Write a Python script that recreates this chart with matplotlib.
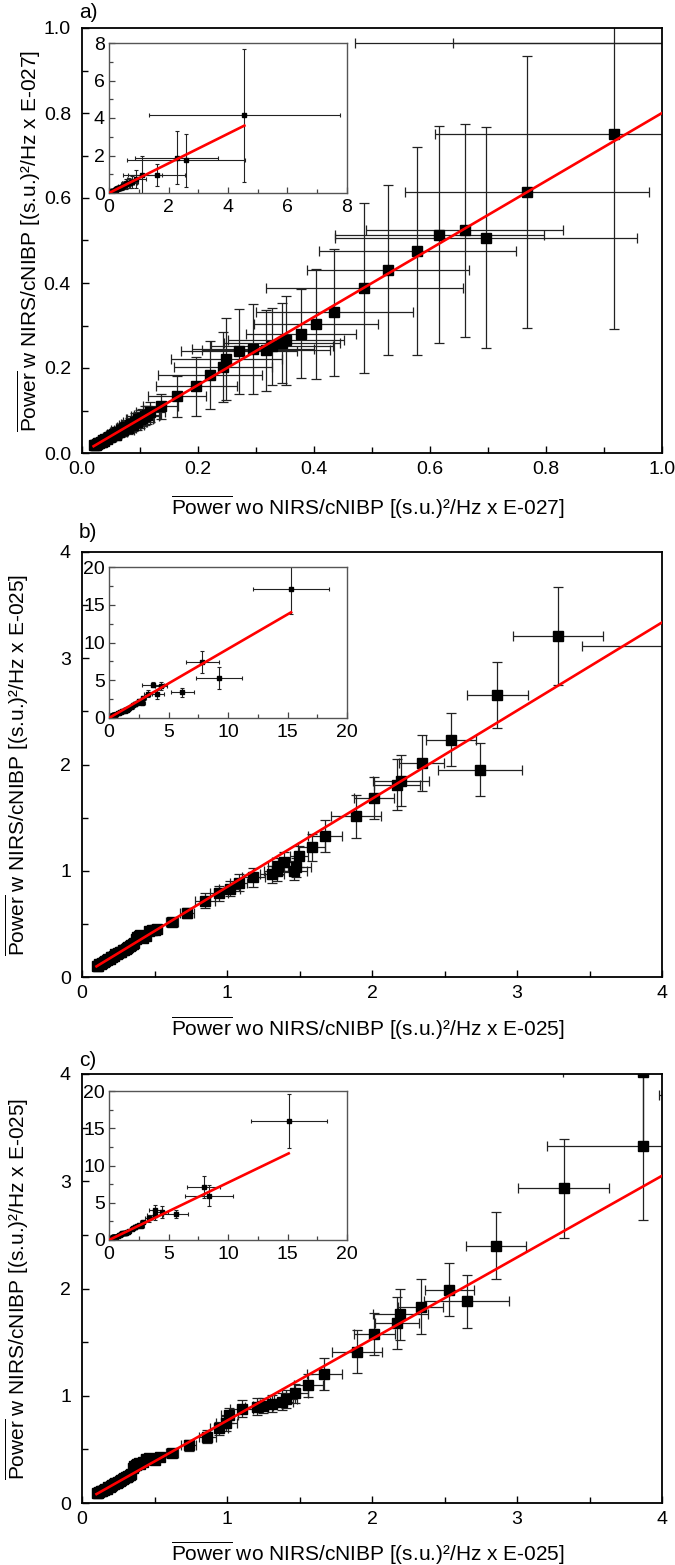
import numpy as np
import matplotlib
matplotlib.use("Agg")
import matplotlib.pyplot as plt
from matplotlib.ticker import MultipleLocator

plt.rcParams['font.family'] = ['Liberation Sans', 'DejaVu Sans']
plt.rcParams['mathtext.fontset'] = 'custom'
plt.rcParams['mathtext.rm'] = 'Liberation Sans'
plt.rcParams['mathtext.it'] = 'Liberation Sans:italic'

# ---------------- panel a (E-027) ----------------
# dense cluster near the origin
ax_clu = [0.020, 0.022, 0.024, 0.026, 0.028, 0.030, 0.032, 0.034, 0.036, 0.038,
          0.040, 0.043, 0.046, 0.049, 0.052, 0.055, 0.058, 0.061, 0.064, 0.067,
          0.070, 0.073, 0.076, 0.079, 0.082, 0.085, 0.088, 0.091, 0.094, 0.097,
          0.100, 0.104, 0.108, 0.112, 0.118]
ay_clu = [0.018, 0.020, 0.019, 0.022, 0.024, 0.023, 0.027, 0.026, 0.030, 0.029,
          0.033, 0.034, 0.038, 0.037, 0.042, 0.044, 0.043, 0.049, 0.050, 0.054,
          0.055, 0.058, 0.062, 0.060, 0.066, 0.068, 0.067, 0.074, 0.073, 0.079,
          0.080, 0.083, 0.088, 0.090, 0.096]
aex_clu = [0.004, 0.005, 0.004, 0.006, 0.005, 0.006, 0.007, 0.006, 0.008, 0.007,
           0.008, 0.009, 0.010, 0.009, 0.011, 0.012, 0.010, 0.013, 0.014, 0.012,
           0.020, 0.015, 0.016, 0.014, 0.018, 0.017, 0.019, 0.020, 0.018, 0.021,
           0.022, 0.020, 0.024, 0.022, 0.025]
aey_clu = [0.004, 0.005, 0.004, 0.005, 0.006, 0.005, 0.006, 0.007, 0.006, 0.008,
           0.008, 0.009, 0.010, 0.009, 0.011, 0.010, 0.012, 0.013, 0.012, 0.014,
           0.015, 0.014, 0.016, 0.015, 0.017, 0.018, 0.016, 0.019, 0.020, 0.018,
           0.021, 0.020, 0.022, 0.021, 0.024]
# scattered points (incl. ones outside the main range, seen in the inset)
ax_sc = [0.136, 0.164, 0.197, 0.221, 0.243, 0.249, 0.270, 0.295, 0.317, 0.327,
         0.344, 0.351, 0.378, 0.403, 0.435, 0.487, 0.528, 0.578, 0.616, 0.660,
         0.697, 0.767, 0.918, 1.12, 1.60, 2.27, 2.58, 4.55]
ay_sc = [0.110, 0.133, 0.157, 0.183, 0.202, 0.221, 0.239, 0.245, 0.242, 0.251,
         0.259, 0.265, 0.281, 0.304, 0.331, 0.388, 0.431, 0.476, 0.514, 0.524,
         0.507, 0.613, 0.751, 0.965, 0.965, 1.89, 1.75, 4.15]
aex_sc = [0.030, 0.050, 0.070, 0.090, 0.085, 0.095, 0.100, 0.105, 0.110, 0.105,
          0.100, 0.100, 0.095, 0.107, 0.135, 0.170, 0.140, 0.170, 0.180, 0.170,
          0.260, 0.210, 0.310, 0.650, 0.960, 1.40, 1.98, 3.20]
aey_sc = [0.030, 0.048, 0.070, 0.080, 0.082, 0.097, 0.100, 0.105, 0.095, 0.090,
          0.095, 0.105, 0.105, 0.130, 0.150, 0.200, 0.200, 0.245, 0.255, 0.250,
          0.260, 0.320, 0.460, 1.000, 0.600, 1.43, 1.42, 3.55]
fit_a_main = [0.80, 0.0]
fit_a_inset = [0.79, 0.0]

# ---------------- panel b (E-025) ----------------
bx_clu = [0.10, 0.11, 0.12, 0.13, 0.14, 0.15, 0.16, 0.17, 0.18, 0.19, 0.20, 0.21,
          0.22, 0.23, 0.24, 0.25, 0.26, 0.27, 0.28, 0.29, 0.30, 0.31, 0.32, 0.33,
          0.34, 0.35, 0.36, 0.37, 0.38, 0.39, 0.40, 0.42, 0.44, 0.46, 0.48, 0.50]
by_clu = [0.100, 0.105, 0.118, 0.120, 0.135, 0.142, 0.150, 0.158, 0.170, 0.172,
          0.185, 0.190, 0.200, 0.212, 0.215, 0.225, 0.232, 0.240, 0.250, 0.258,
          0.260, 0.272, 0.280, 0.290, 0.300, 0.310, 0.322, 0.360, 0.380, 0.390,
          0.400, 0.370, 0.385, 0.430, 0.440, 0.445]
bex_clu = [0.010, 0.012, 0.011, 0.013, 0.012, 0.014, 0.013, 0.015, 0.014, 0.016,
           0.015, 0.017, 0.016, 0.018, 0.017, 0.019, 0.018, 0.020, 0.019, 0.021,
           0.020, 0.022, 0.021, 0.023, 0.022, 0.024, 0.023, 0.025, 0.024, 0.026,
           0.025, 0.027, 0.030, 0.028, 0.032, 0.030]
bey_clu = [0.010, 0.011, 0.012, 0.012, 0.013, 0.013, 0.014, 0.014, 0.015, 0.015,
           0.016, 0.016, 0.017, 0.017, 0.018, 0.018, 0.019, 0.019, 0.020, 0.020,
           0.021, 0.021, 0.022, 0.022, 0.023, 0.023, 0.024, 0.025, 0.026, 0.026,
           0.027, 0.027, 0.028, 0.029, 0.030, 0.031]
bx_sc = [0.515, 0.619, 0.723, 0.848, 0.946, 1.018, 1.080, 1.182, 1.310, 1.348,
         1.354, 1.393, 1.464, 1.479, 1.497, 1.583, 1.676, 1.890, 2.015, 2.172,
         2.200, 2.342, 2.545, 2.744, 2.863, 3.280, 4.05, 3.70, 4.40, 6.15, 7.84,
         9.24, 15.3]
by_sc = [0.455, 0.518, 0.602, 0.718, 0.790, 0.831, 0.885, 0.938, 0.969, 0.994,
         1.042, 1.082, 1.000, 1.032, 1.136, 1.220, 1.324, 1.512, 1.685, 1.810,
         1.848, 2.014, 2.234, 1.951, 2.651, 3.210, 3.12, 4.40, 4.20, 3.38, 7.40,
         5.27, 17.1]
bex_sc = [0.030, 0.040, 0.050, 0.070, 0.060, 0.070, 0.060, 0.080, 0.080, 0.090,
          0.070, 0.080, 0.090, 0.100, 0.060, 0.090, 0.120, 0.170, 0.140, 0.160,
          0.190, 0.155, 0.170, 0.290, 0.210, 0.310, 0.60, 0.90, 0.50, 0.98, 1.40,
          1.94, 3.20]
bey_sc = [0.030, 0.040, 0.050, 0.070, 0.070, 0.070, 0.080, 0.090, 0.080, 0.090,
          0.080, 0.090, 0.090, 0.090, 0.100, 0.130, 0.150, 0.200, 0.200, 0.240,
          0.240, 0.260, 0.250, 0.250, 0.310, 0.460, 0.55, 0.35, 0.55, 0.55, 1.45,
          1.45, 3.30]
fit_b_main = [0.83, 0.017]
fit_b_inset = [0.915, 0.0]

# ---------------- panel c (E-025) ----------------
cx_clu = [0.10, 0.11, 0.12, 0.13, 0.14, 0.15, 0.16, 0.17, 0.18, 0.19, 0.20, 0.21,
          0.22, 0.23, 0.24, 0.25, 0.26, 0.27, 0.28, 0.29, 0.30, 0.31, 0.32, 0.33,
          0.34, 0.35, 0.36, 0.37, 0.38, 0.39, 0.40, 0.42, 0.44, 0.46, 0.48, 0.50]
cy_clu = [0.090, 0.095, 0.100, 0.110, 0.115, 0.120, 0.130, 0.135, 0.145, 0.150,
          0.160, 0.170, 0.175, 0.185, 0.190, 0.200, 0.205, 0.215, 0.220, 0.230,
          0.240, 0.245, 0.255, 0.260, 0.270, 0.330, 0.345, 0.350, 0.360, 0.370,
          0.360, 0.380, 0.410, 0.420, 0.410, 0.400]
cex_clu = bex_clu
cey_clu = bey_clu
cx_sc = [0.535, 0.619, 0.735, 0.865, 0.946, 0.996, 1.017, 1.100, 1.204, 1.249,
         1.309, 1.377, 1.404, 1.472, 1.561, 1.671, 1.897, 2.016, 2.171, 2.195,
         2.335, 2.534, 2.653, 2.855, 3.322, 3.866, 3.87, 4.48, 5.60, 7.95, 8.38,
         15.1]
cy_sc = [0.425, 0.467, 0.537, 0.617, 0.697, 0.745, 0.819, 0.879, 0.898, 0.905,
         0.927, 0.943, 0.969, 1.023, 1.097, 1.200, 1.410, 1.576, 1.680, 1.760,
         1.832, 1.990, 1.880, 2.400, 2.935, 3.330, 4.02, 3.80, 3.48, 7.14, 5.94,
         15.98]
cex_sc = [0.030, 0.040, 0.050, 0.060, 0.060, 0.070, 0.060, 0.080, 0.080, 0.070,
          0.080, 0.080, 0.080, 0.090, 0.100, 0.120, 0.170, 0.140, 0.150, 0.190,
          0.155, 0.170, 0.295, 0.210, 0.314, 0.660, 0.55, 0.50, 1.03, 1.38, 2.00,
          3.19]
cey_sc = [0.030, 0.040, 0.050, 0.060, 0.060, 0.070, 0.070, 0.080, 0.080, 0.070,
          0.080, 0.080, 0.080, 0.090, 0.110, 0.150, 0.200, 0.200, 0.240, 0.240,
          0.260, 0.250, 0.250, 0.315, 0.460, 0.690, 0.70, 0.80, 0.55, 1.45, 1.40,
          3.60]
fit_c_main = [0.761, 0.007]
fit_c_inset = [0.77, 0.0]

W, H = 675, 1565
FS = 14      # tick labels
LFS = 15     # axis labels


def frac(l, t, r, b):
    # pixel box -> figure fraction rect
    return [l / W, 1 - b / H, (r - l) / W, (b - t) / H]


def draw_panel(rect, irect, x, y, ex, ey, lim, step, ilim, istep,
               fit_main, fit_inset, line_x, iline_end, unit, ylab_x, xlab_y, letter, letter_y):
    ax = fig.add_axes(rect)
    ax.errorbar(x, y, xerr=ex, yerr=ey, fmt='s', color='black', ms=7, mec='black',
                ecolor='#222222', elinewidth=0.9, capsize=3.5, capthick=0.9, zorder=2)
    xs = np.array(line_x)
    ax.plot(xs, fit_main[0] * xs + fit_main[1], color='#ff0000', lw=1.9, zorder=4)
    ax.set_xlim(0, lim)
    ax.set_ylim(0, lim)
    ax.xaxis.set_major_locator(MultipleLocator(step))
    ax.yaxis.set_major_locator(MultipleLocator(step))
    ax.xaxis.set_minor_locator(MultipleLocator(step / 2))
    ax.yaxis.set_minor_locator(MultipleLocator(step / 2))
    ax.tick_params(which='both', direction='in', top=False, right=False,
                   labelsize=FS, width=1.0)
    ax.tick_params(which='major', length=5)
    ax.tick_params(which='minor', length=4)
    ax.tick_params(axis='x', pad=6)
    ax.tick_params(axis='y', pad=8)
    if step < 1:
        fmt = lambda v, p: '%.1f' % v
    else:
        fmt = lambda v, p: '%d' % round(v)
    ax.xaxis.set_major_formatter(fmt)
    ax.yaxis.set_major_formatter(fmt)
    for s in ax.spines.values():
        s.set_linewidth(1.3)
    ax.set_xlabel(r'$\overline{\mathrm{Power}}$ wo NIRS/cNIBP [(s.u.)²/Hz x ' + unit + ']',
                  fontsize=LFS, va='top')
    ax.set_ylabel(r'$\overline{\mathrm{Power}}$ w NIRS/cNIBP [(s.u.)²/Hz x ' + unit + ']',
                  fontsize=LFS, va='center')
    ax.xaxis.set_label_coords(0.493, xlab_y)
    ax.yaxis.set_label_coords(ylab_x, 0.5)
    fig.text(rect[0] - 0.005, letter_y, letter, fontsize=LFS, va='center', ha='left')

    ins = fig.add_axes(irect)
    ins.errorbar(x, y, xerr=ex, yerr=ey, fmt='s', color='black', ms=2.2,
                 ecolor='#222222', elinewidth=0.8, capsize=1.5, capthick=0.8, zorder=2)
    ixs = np.array([0, iline_end])
    ins.plot(ixs, fit_inset[0] * ixs + fit_inset[1], color='#ff0000', lw=1.9, zorder=4)
    ins.set_xlim(0, ilim)
    ins.set_ylim(0, ilim)
    ins.xaxis.set_major_locator(MultipleLocator(istep))
    ins.yaxis.set_major_locator(MultipleLocator(istep))
    ins.xaxis.set_minor_locator(MultipleLocator(istep / 2))
    ins.yaxis.set_minor_locator(MultipleLocator(istep / 2))
    ins.tick_params(which='both', direction='in', top=False, right=False,
                    labelsize=FS, width=0.9, color='#444444')
    ins.tick_params(which='major', length=4)
    ins.tick_params(which='minor', length=3)
    ins.tick_params(axis='x', pad=4)
    ins.tick_params(axis='y', pad=3)
    for s in ins.spines.values():
        s.set_linewidth(1.0)
        s.set_color('#555555')
    return ax, ins


fig = plt.figure(figsize=(W / 100, H / 100), dpi=100)

draw_panel(frac(82, 28, 662, 453), frac(109, 43, 347, 193),
           ax_clu + ax_sc, ay_clu + ay_sc, aex_clu + aex_sc, aey_clu + aey_sc,
           1.0, 0.2, 8, 2, fit_a_main, fit_a_inset, [0.02, 1.05], 4.55,
           'E-027', -0.09, -0.095, 'a)', 1 - 13 / H)

draw_panel(frac(82, 552, 662, 977), frac(109, 567, 347, 718),
           bx_clu + bx_sc, by_clu + by_sc, bex_clu + bex_sc, bey_clu + bey_sc,
           4, 1, 20, 5, fit_b_main, fit_b_inset, [0.1, 4.2], 15.3,
           'E-025', -0.112, -0.088, 'b)', 1 - 533 / H)

draw_panel(frac(82, 1074, 662, 1503), frac(109, 1091, 347, 1240),
           cx_clu + cx_sc, cy_clu + cy_sc, cex_clu + cex_sc, cey_clu + cey_sc,
           4, 1, 20, 5, fit_c_main, fit_c_inset, [0.1, 4.2], 15.1,
           'E-025', -0.112, -0.087, 'c)', 1 - 1061 / H)

fig.savefig('out.png', dpi=100)
